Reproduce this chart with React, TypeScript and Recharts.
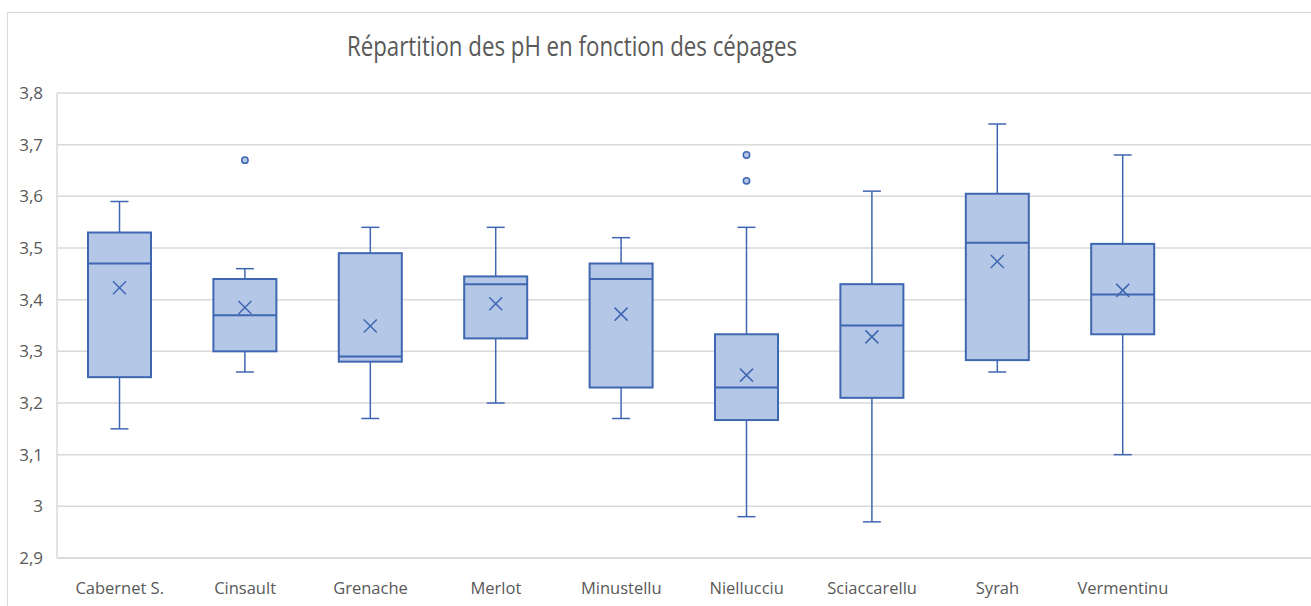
import { ComposedChart, Bar, XAxis, YAxis, CartesianGrid } from 'recharts';

// pH distribution per grape variety (Excel-style box & whisker)
const categories = ['Cabernet S.', 'Cinsault', 'Grenache', 'Merlot', 'Minustellu', 'Niellucciu', 'Sciaccarellu', 'Syrah', 'Vermentinu'];
const whiskerLow = [3.15, 3.26, 3.17, 3.2, 3.17, 2.98, 2.97, 3.26, 3.1];
const q1 = [3.25, 3.3, 3.28, 3.325, 3.23, 3.167, 3.21, 3.283, 3.333];
const median = [3.47, 3.37, 3.29, 3.43, 3.44, 3.23, 3.35, 3.51, 3.41];
const q3 = [3.53, 3.44, 3.49, 3.445, 3.47, 3.333, 3.43, 3.605, 3.508];
const whiskerHigh = [3.59, 3.46, 3.54, 3.54, 3.52, 3.54, 3.61, 3.74, 3.68];
const means = [3.423, 3.385, 3.349, 3.392, 3.372, 3.254, 3.328, 3.474, 3.418];
const outliers: number[][] = [[], [3.67], [], [], [], [3.68, 3.63], [], [], []];
const yTicks = [2.9, 3, 3.1, 3.2, 3.3, 3.4, 3.5, 3.6, 3.7, 3.8];

const STROKE = '#3f67b1';
const FILL = '#b4c7e7';
const TEXT = '#595959';
const GRID = '#d9d9d9';
const FONT = '"Open Sans", sans-serif';

const data = [
  ...categories.map((name, i) => ({
    name,
    range: [whiskerLow[i], whiskerHigh[i]],
    q1: q1[i],
    median: median[i],
    q3: q3[i],
    mean: means[i],
    outliers: outliers[i],
  })),
  // empty slot at the right, like the original plot area
  { name: '', range: null as any, q1: 0, median: 0, q3: 0, mean: 0, outliers: [] as number[] },
];

function BoxShape(props: any) {
  const { x, y, width, height, payload } = props;
  if (!payload || !payload.range) return null;
  const [lo, hi] = payload.range;
  const top = Math.min(y, y + height);
  const bottom = Math.max(y, y + height);
  // position of any value, derived from the bar the y scale produced
  const py = (v: number) => top + ((hi - v) / (hi - lo)) * (bottom - top);
  const cx = x + width / 2;
  const cap = 9;
  const m = 6.5;
  const my = py(payload.mean);
  return (
    <g>
      <line x1={cx} y1={py(hi)} x2={cx} y2={py(payload.q3)} stroke={STROKE} strokeWidth={1.5} />
      <line x1={cx} y1={py(payload.q1)} x2={cx} y2={py(lo)} stroke={STROKE} strokeWidth={1.5} />
      <line x1={cx - cap} y1={py(hi)} x2={cx + cap} y2={py(hi)} stroke={STROKE} strokeWidth={1.5} />
      <line x1={cx - cap} y1={py(lo)} x2={cx + cap} y2={py(lo)} stroke={STROKE} strokeWidth={1.5} />
      <rect
        x={x}
        y={py(payload.q3)}
        width={width}
        height={py(payload.q1) - py(payload.q3)}
        fill={FILL}
        stroke={STROKE}
        strokeWidth={2}
      />
      <line x1={x} y1={py(payload.median)} x2={x + width} y2={py(payload.median)} stroke={STROKE} strokeWidth={2} />
      <line x1={cx - m} y1={my - m} x2={cx + m} y2={my + m} stroke={STROKE} strokeWidth={1.5} />
      <line x1={cx - m} y1={my + m} x2={cx + m} y2={my - m} stroke={STROKE} strokeWidth={1.5} />
      {payload.outliers.map((o: number, i: number) => (
        <circle key={i} cx={cx} cy={py(o)} r={3.2} fill={FILL} stroke={STROKE} strokeWidth={1.5} />
      ))}
    </g>
  );
}

const fmt = (v: number) => String(Math.round(v * 10) / 10).replace('.', ',');

export default function App() {
  return (
    <div style={{ position: 'absolute', left: 0, top: 0, width: 1311, height: 606, overflow: 'hidden', background: '#fff' }}>
      <div
        style={{
          position: 'absolute',
          left: 7,
          top: 12,
          width: 1400,
          height: 700,
          border: `1px solid ${GRID}`,
          boxSizing: 'border-box',
        }}
      />
      <svg width={1311} height={80} style={{ position: 'absolute', left: 0, top: 0 }}>
        <text
          x={347}
          y={56}
          textLength={450}
          lengthAdjust="spacingAndGlyphs"
          fill={TEXT}
          fontSize={27}
          fontFamily={FONT}
        >
          Répartition des pH en fonction des cépages
        </text>
      </svg>
      <div style={{ position: 'absolute', left: 0, top: 0 }}>
        <ComposedChart width={1311} height={606} data={data} margin={{ top: 93, right: 0, bottom: 0, left: 0 }}>
          <CartesianGrid vertical={false} stroke={GRID} strokeWidth={1.5} />
          <XAxis
            dataKey="name"
            interval={0}
            height={48}
            tickLine={false}
            tickSize={0}
            tickMargin={24}
            axisLine={{ stroke: GRID, strokeWidth: 1.5 }}
            tick={{ fill: TEXT, fontSize: 16.5, fontFamily: FONT }}
          />
          <YAxis
            type="number"
            domain={[2.9, 3.8]}
            ticks={yTicks}
            width={57}
            tickLine={false}
            tickSize={0}
            tickMargin={14}
            axisLine={{ stroke: GRID, strokeWidth: 1.5 }}
            tickFormatter={fmt}
            tick={{ fill: TEXT, fontSize: 17, fontFamily: FONT }}
          />
          <Bar dataKey="range" barSize={63} shape={BoxShape} isAnimationActive={false} />
        </ComposedChart>
      </div>
    </div>
  );
}
